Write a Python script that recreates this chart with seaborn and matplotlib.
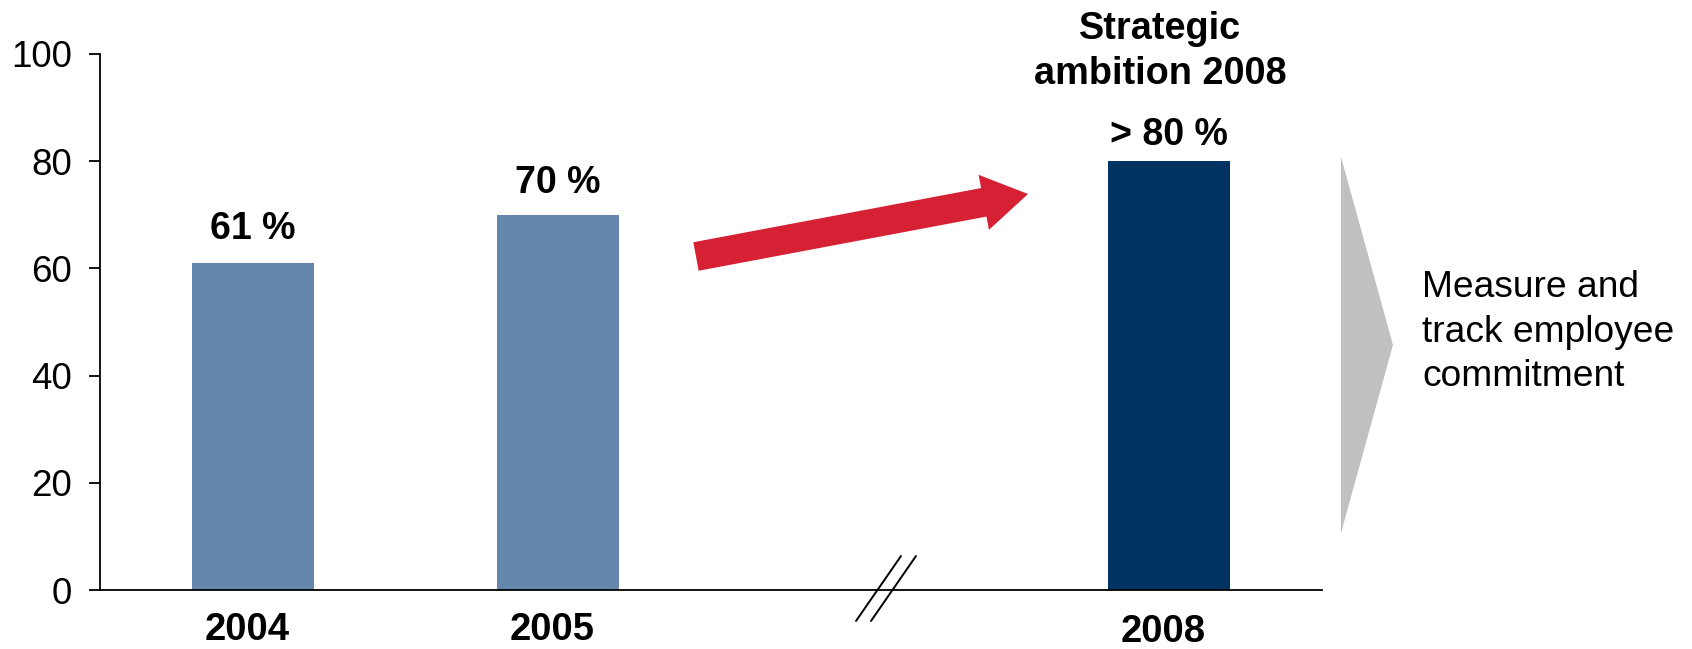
import matplotlib
matplotlib.use("Agg")
import matplotlib.pyplot as plt
import matplotlib.transforms as mtransforms
from matplotlib.patches import FancyArrow, Polygon
from matplotlib.lines import Line2D
import seaborn as sns
import pandas as pd

# ---- data ----
years = ["2004", "2005", "2008"]
values = [61, 70, 80]
value_labels = ["61 %", "70 %", "> 80 %"]
slot_order = ["2004", "2005", "gap", "2008"]
tick_labels = ["2004", "2005", "", "2008"]
y_ticks = [0, 20, 40, 60, 80, 100]
bar_colors = {"2004": "#6587AD", "2005": "#6587AD", "2008": "#003362"}
label_offsets_pt = [17.5, 15.5, 11.5]
side_note = "Measure and\ntrack employee\ncommitment"
ambition_title = "Strategic\nambition 2008"

sns.set_style("white")
plt.rcParams["font.family"] = ["Liberation Sans", "DejaVu Sans"]
plt.rcParams["text.color"] = "black"
plt.rcParams["xtick.color"] = "black"
plt.rcParams["ytick.color"] = "black"
plt.rcParams["axes.labelcolor"] = "black"

df = pd.DataFrame({"year": years, "value": values})

fig = plt.figure(figsize=(16.92, 6.49), dpi=100)
ax = fig.add_axes([0.0591, 0.0909, 0.7222, 0.8259])

sns.barplot(data=df, x="year", y="value", order=slot_order, hue="year",
            palette=bar_colors, width=0.4, legend=False, ax=ax,
            saturation=1, linewidth=0)

ax.set_xlim(-0.5, 3.5)
ax.set_ylim(0, 100)
ax.set_yticks(y_ticks)
ax.set_xticks(range(len(slot_order)))
ax.set_xticklabels(tick_labels, fontsize=27.5, fontweight="bold")
ax.set_xlabel("")
ax.set_ylabel("")
ax.set_xticks([i - 0.5 for i in range(len(slot_order) + 1)], minor=True)

for s in ["top", "right"]:
    ax.spines[s].set_visible(False)
for s in ["left", "bottom"]:
    ax.spines[s].set_color("black")
    ax.spines[s].set_linewidth(1.3)

ax.tick_params(axis="x", which="major", length=0, pad=16)
ax.tick_params(axis="x", which="minor", length=6.5, width=1.3, direction="out", color="black")
ax.tick_params(axis="y", which="major", length=8, width=1.3, direction="out",
               color="black", labelcolor="black", labelsize=26.5, pad=12, left=True)

# nudge x tick labels slightly left; 2008 label sits a touch lower, as in the reference
for i, lbl in enumerate(ax.get_xticklabels()):
    dy = -1.5 / 100 if i == 3 else 0
    lbl.set_transform(lbl.get_transform() + mtransforms.ScaledTranslation(-6 / 100, dy, fig.dpi_scale_trans))

# value labels
pos = {c: i for i, c in enumerate(slot_order)}
for yr, v, lab, off in zip(years, values, value_labels, label_offsets_pt):
    ax.annotate(lab, (pos[yr], v), xytext=(0, off), textcoords="offset points",
                ha="center", va="baseline", fontsize=27, fontweight="bold", color="black")

# strategic ambition title
ax.text(pos["2008"] - 0.03, 100.4, ambition_title, ha="center", va="center",
        fontsize=27.3, fontweight="bold", clip_on=False, linespacing=1.33, color="black")

# red arrow (decoration)
arrow = FancyArrow(6.96, 3.925, 3.32, 0.625, width=0.29, head_width=0.56,
                   head_length=0.45, length_includes_head=True,
                   color="#D62134", linewidth=0, transform=fig.dpi_scale_trans)
fig.add_artist(arrow)

# axis break marks
for x0 in (8.56, 8.71):
    fig.add_artist(Line2D([x0, x0 + 0.45], [0.28, 0.93], color="black", lw=1.4,
                          transform=fig.dpi_scale_trans))

# grey chevron
chev = Polygon([(13.41, 4.92), (13.93, 3.04), (13.41, 1.16)], closed=True,
               facecolor="#C0C0C0", edgecolor="none", transform=fig.dpi_scale_trans)
fig.add_artist(chev)

fig.text(1422 / 1692, 1 - 332 / 649, side_note, ha="left", va="center",
         fontsize=26.7, linespacing=1.35, color="black")

fig.savefig("out.png", dpi=100)
